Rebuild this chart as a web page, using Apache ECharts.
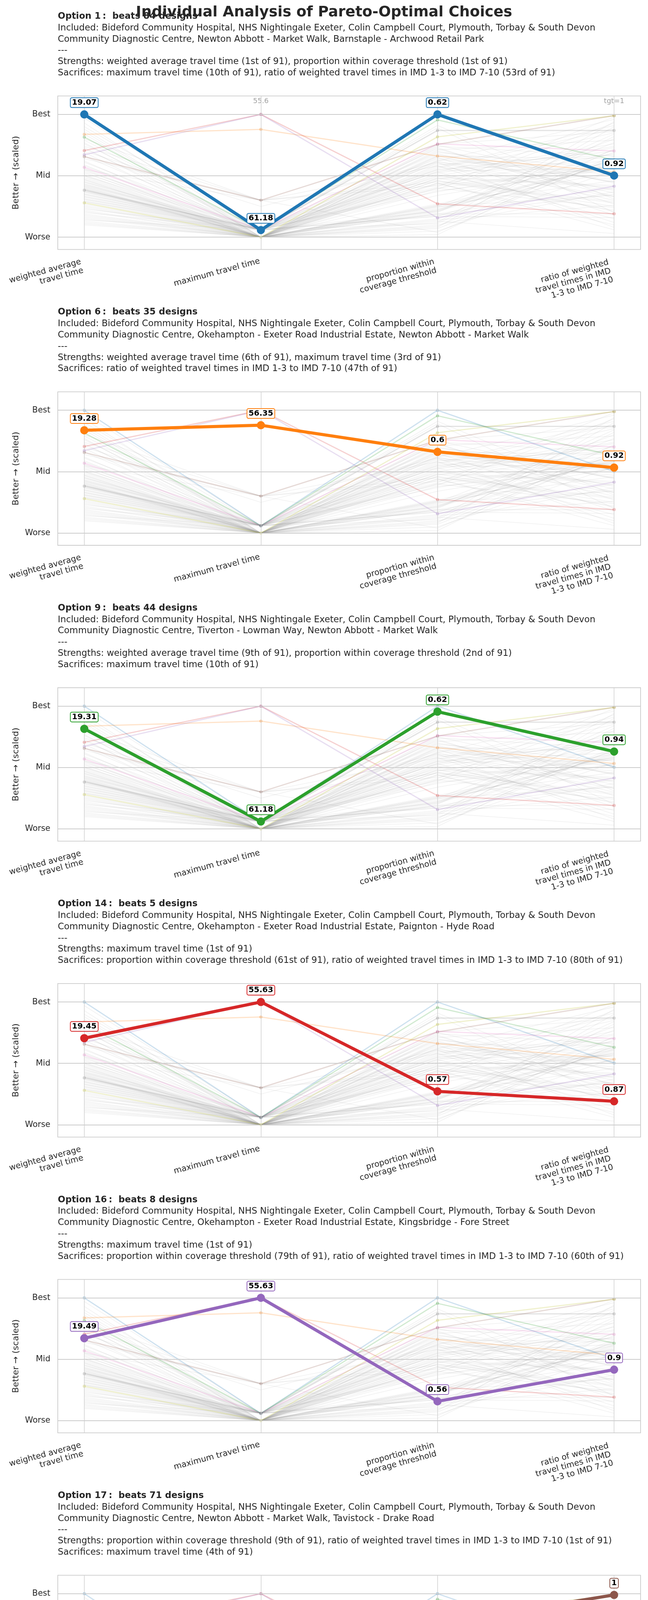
<!DOCTYPE html>
<html>
<head>
<meta charset="utf-8">
<title>Individual Analysis of Pareto-Optimal Choices</title>
<script src="https://cdn.jsdelivr.net/npm/echarts@6/dist/echarts.min.js"></script>
<style>
    html, body { margin: 0; padding: 0; background: #fff; }
    #chart { width: 1660px; height: 6852px; }
</style>
</head>
<body>
<div id="chart"></div>
<script>
// axes of the parallel plot
var axisNames = ['weighted average\ntravel time', 'maximum travel time', 'proportion within\ncoverage threshold', 'ratio of weighted\ntravel times in IMD\n1-3 to IMD 7-10'];
var levelValues = [0, 0.5, 1];
var levelNames = ['Worse', 'Mid', 'Best'];

// pareto options
var optionIds = [1, 6, 9, 14, 16, 17, 28, 58, 73];
var optionBeats = [84, 35, 44, 5, 8, 71, 42, 27, 14];
var optionColors = ['#1f77b4', '#ff7f0e', '#2ca02c', '#d62728', '#9467bd', '#8c564b', '#e377c2', '#7f7f7f', '#bcbd22'];
// scaled position on each axis (0 = worse, 1 = best)
var optionScaled = [
    [1.0, 0.058, 1.0, 0.502],
    [0.837, 0.878, 0.661, 0.533],
    [0.815, 0.06, 0.955, 0.63],
    [0.705, 1.0, 0.272, 0.191],
    [0.671, 1.0, 0.157, 0.415],
    [0.656, 0.301, 0.756, 0.99],
    [0.569, 0.06, 0.76, 0.702],
    [0.382, 0.06, 0.869, 0.869],
    [0.28, 0.0, 0.817, 0.989]
];
// raw values written in the boxes
var optionRaw = [
    ['19.07', '61.18', '0.62', '0.92'],
    ['19.28', '56.35', '0.6', '0.92'],
    ['19.31', '61.18', '0.62', '0.94'],
    ['19.45', '55.63', '0.57', '0.87'],
    ['19.49', '55.63', '0.56', '0.9'],
    ['19.52', '59.77', '0.6', '1'],
    ['19.63', '61.18', '0.6', '0.95'],
    ['19.87', '61.18', '0.61', '1.02'],
    ['20', '61.53', '0.61', '1']
];
var includedLine1 = 'Included: Bideford Community Hospital, NHS Nightingale Exeter, Colin Campbell Court, Plymouth, Torbay & South Devon';
var includedLine2 = [
    'Community Diagnostic Centre, Newton Abbott - Market Walk, Barnstaple - Archwood Retail Park',
    'Community Diagnostic Centre, Okehampton - Exeter Road Industrial Estate, Newton Abbott - Market Walk',
    'Community Diagnostic Centre, Tiverton - Lowman Way, Newton Abbott - Market Walk',
    'Community Diagnostic Centre, Okehampton - Exeter Road Industrial Estate, Paignton - Hyde Road',
    'Community Diagnostic Centre, Okehampton - Exeter Road Industrial Estate, Kingsbridge - Fore Street',
    'Community Diagnostic Centre, Newton Abbott - Market Walk, Tavistock - Drake Road',
    'Community Diagnostic Centre, Newton Abbott - Market Walk, Paignton - Hyde Road',
    'Community Diagnostic Centre, Newton Abbott - Market Walk, Exmouth - The Strand',
    'Community Diagnostic Centre, Bovey Tracey - Blue Waters, Exmouth - The Strand'
];
var strengths = [
    'weighted average travel time (1st of 91), proportion within coverage threshold (1st of 91)',
    'weighted average travel time (6th of 91), maximum travel time (3rd of 91)',
    'weighted average travel time (9th of 91), proportion within coverage threshold (2nd of 91)',
    'maximum travel time (1st of 91)',
    'maximum travel time (1st of 91)',
    'proportion within coverage threshold (9th of 91), ratio of weighted travel times in IMD 1-3 to IMD 7-10 (1st of 91)',
    'proportion within coverage threshold (7th of 91), ratio of weighted travel times in IMD 1-3 to IMD 7-10 (23rd of 91)',
    'proportion within coverage threshold (5th of 91), ratio of weighted travel times in IMD 1-3 to IMD 7-10 (11th of 91)',
    'proportion within coverage threshold (6th of 91), ratio of weighted travel times in IMD 1-3 to IMD 7-10 (2nd of 91)'
];
var sacrifices = [
    'maximum travel time (10th of 91), ratio of weighted travel times in IMD 1-3 to IMD 7-10 (53rd of 91)',
    'ratio of weighted travel times in IMD 1-3 to IMD 7-10 (47th of 91)',
    'maximum travel time (10th of 91)',
    'proportion within coverage threshold (61st of 91), ratio of weighted travel times in IMD 1-3 to IMD 7-10 (80th of 91)',
    'proportion within coverage threshold (79th of 91), ratio of weighted travel times in IMD 1-3 to IMD 7-10 (60th of 91)',
    'maximum travel time (4th of 91)',
    'weighted average travel time (28th of 91), maximum travel time (10th of 91)',
    'weighted average travel time (58th of 91), maximum travel time (10th of 91)',
    'weighted average travel time (73rd of 91), maximum travel time (37th of 91)'
];
// best reference values printed above the first panel
var bestRefLabels = ['19.07', '55.6', '0.62', 'tgt=1'];
var bestRefLevel = 1.108;

// the other (dominated) designs, scaled
var otherDesigns = [
    [0.97, 0.06, 0.62, 0.30], [0.93, 0, 0.70, 0.45], [0.90, 0.06, 0.55, 0.62], [0.88, 0, 0.48, 0.25],
    [0.86, 0, 0.66, 0.38], [0.84, 0, 0.40, 0.58], [0.80, 0.30, 0.58, 0.12], [0.79, 0.06, 0.72, 0.33],
    [0.77, 0, 0.09, 0.66], [0.76, 0.06, 0.64, 0.52], [0.74, 0.30, 0.45, 0.28], [0.73, 0, 0.50, 0.74],
    [0.72, 0.06, 0.89, 0.20], [0.70, 0.25, 0.61, 0.47], [0.69, 0, 0.25, 0.80], [0.66, 0.06, 0.68, 0.36],
    [0.64, 0.30, 0.42, 0.57], [0.62, 0, 0.24, 0.69], [0.61, 0.06, 0.53, 0.15], [0.59, 0, 0.75, 0.44],
    [0.58, 0.06, 0.37, 0.61], [0.56, 0, 0.57, 0.91], [0.55, 0.30, 0.04, 0.65], [0.55, 0, 0.46, 0.22],
    [0.54, 0.06, 0.69, 0.55], [0.53, 0, 0.20, 0.84], [0.52, 0.06, 0.60, 0.39], [0.51, 0, 0.22, 0.60],
    [0.50, 0, 0.52, 0.76], [0.50, 0.06, 0.91, 0.31], [0.49, 0, 0.43, 0.68], [0.48, 0, 0.12, 0.94],
    [0.47, 0, 0.65, 0.18], [0.47, 0, 0.38, 0.52], [0.46, 0, 0.56, 0.88], [0.45, 0.06, 0.21, 0.63],
    [0.45, 0, 0.73, 0.27], [0.44, 0, 0.22, 0.71], [0.43, 0.06, 0.49, 0.42], [0.43, 0, 0.62, 0.96],
    [0.42, 0, 0.34, 0.58], [0.42, 0.06, 0.18, 0.35], [0.41, 0, 0.59, 0.67], [0.41, 0, 0.44, 0.10],
    [0.40, 0, 0.71, 0.79], [0.40, 0, 0.26, 0.46], [0.39, 0, 0.54, 0.56], [0.39, 0.06, 0.40, 0.24],
    [0.39, 0, 0.08, 0.90], [0.38, 0, 0.66, 0.64], [0.37, 0.06, 0.47, 0.73], [0.37, 0, 0.19, 0.40],
    [0.36, 0, 0.63, 0.51], [0.35, 0.06, 0.757, 0.86], [0.35, 0, 0.23, 0.59], [0.34, 0, 0.51, 0.21],
    [0.33, 0.06, 0.11, 0.82], [0.33, 0, 0.15, 0.62], [0.32, 0, 0.58, 0.33], [0.31, 0.06, 0.41, 0.98],
    [0.31, 0, 0.05, 0.54], [0.30, 0, 0.67, 0.45], [0.29, 0.06, 0.17, 0.16], [0.29, 0, 0.55, 0.70],
    [0.27, 0, 0.21, 0.77], [0.26, 0, 0.46, 0.29], [0.25, 0, 0.74, 0.66], [0.24, 0, 0.10, 0.37],
    [0.23, 0.06, 0.39, 0.93], [0.22, 0, 0.26, 0.53], [0.21, 0, 0.61, 0.08], [0.20, 0.06, 0.17, 0.61],
    [0.19, 0, 0.48, 0.41], [0.18, 0, 0.02, 0.72], [0.17, 0, 0.14, 0.26], [0.16, 0, 0.27, 0.57],
    [0.15, 0, 0.13, 0.03], [0.14, 0.06, 0.53, 0.85], [0.13, 0, 0.19, 0.19], [0.12, 0, 0.07, 0.64],
    [0.11, 0, 0.25, 0.34], [0.10, 0, 0.44, 0.06]
];

var FONT = '"DejaVu Sans", sans-serif';
var TEXT_COLOR = '#262626';
var PANEL_H = 757.4;

function toPoints(row) {
    var pts = [];
    for (var i = 0; i < row.length; i++) {
        pts.push([i, row[i]]);
    }
    return pts;
}

// x labels: right padding keeps the rotated block right edge on the axis
var xRich = {};
[6, 12, 18].forEach(function (pad, k) {
    xRich['l' + (k + 1)] = {
        fontSize: 21, fontFamily: FONT, color: TEXT_COLOR, lineHeight: 23,
        padding: [0, pad, 0, 0]
    };
});
function xLabel(v) {
    var lines = axisNames[Math.round(v)].split('\n');
    var key = 'l' + lines.length;
    return lines.map(function (s) { return '{' + key + '|' + s + '}'; }).join('\n');
}

var titles = [{
    text: 'Individual Analysis of Pareto-Optimal Choices',
    left: 'center', top: 13, padding: 0,
    textStyle: { fontSize: 37.5, fontWeight: 'bold', color: TEXT_COLOR, fontFamily: FONT }
}];
var grids = [], xAxes = [], yAxes = [], series = [];

function makePanel(p) {
    var off = p * PANEL_H;
    titles.push({
        left: 148, top: off + 27.5, padding: 0, itemGap: 1,
        text: 'Option ' + optionIds[p] + '\u2009:  beats ' + optionBeats[p] + ' designs',
        subtext: [includedLine1, includedLine2[p], '---', 'Strengths: ' + strengths[p], 'Sacrifices: ' + sacrifices[p]].join('\n'),
        textStyle: { fontSize: 22.8, fontWeight: 'bold', color: TEXT_COLOR, fontFamily: FONT, lineHeight: 29 },
        subtextStyle: { fontSize: 22.8, color: TEXT_COLOR, fontFamily: FONT, lineHeight: 28.8 }
    });
    grids.push({
        left: 148, top: off + 245.7, width: 1493, height: 392.9,
        show: true, borderColor: '#cccccc', borderWidth: 1.8, backgroundColor: '#ffffff'
    });
    xAxes.push({
        gridIndex: p, type: 'value', min: -0.15, max: 3.15,
        axisLine: { show: false }, axisTick: { show: false }, splitLine: { show: false },
        axisLabel: {
            customValues: [0, 1, 2, 3], rotate: 15, align: 'right', verticalAlign: 'top',
            margin: 17, formatter: xLabel, rich: xRich,
            fontSize: 21, fontFamily: FONT, color: TEXT_COLOR, lineHeight: 23
        }
    });
    yAxes.push({
        gridIndex: p, type: 'value', min: -0.1, max: 1.15,
        name: 'Better \u2192 (scaled)', nameLocation: 'middle', nameGap: 96,
        nameTextStyle: { fontSize: 22, fontFamily: FONT, color: TEXT_COLOR },
        axisLine: { show: false }, axisTick: { show: false }, splitLine: { show: false },
        axisLabel: {
            customValues: levelValues, margin: 19,
            fontSize: 21, fontFamily: FONT, color: TEXT_COLOR,
            formatter: function (v) { return levelNames[levelValues.indexOf(v)]; }
        }
    });

    // grid lines
    var gridLines = [];
    for (var i = 0; i < axisNames.length; i++) {
        gridLines.push({ xAxis: i, lineStyle: { color: '#cfcfcf', width: 1.5, type: 'solid' } });
    }
    levelValues.forEach(function (v) {
        gridLines.push({ yAxis: v, lineStyle: { color: '#cccccc', width: 2, type: 'solid' } });
    });
    series.push({
        type: 'line', xAxisIndex: p, yAxisIndex: p, data: [], z: 1, silent: true,
        markLine: { silent: true, symbol: 'none', label: { show: false }, data: gridLines }
    });

    // all other designs
    otherDesigns.forEach(function (row) {
        series.push({
            type: 'line', xAxisIndex: p, yAxisIndex: p, z: 2, silent: true,
            data: toPoints(row), symbol: 'none',
            lineStyle: { color: '#9a9a9a', width: 1.6, opacity: 0.14 }
        });
    });

    // faint pareto options
    optionScaled.forEach(function (row, o) {
        series.push({
            type: 'line', xAxisIndex: p, yAxisIndex: p, z: 3, silent: true,
            data: toPoints(row), symbol: 'circle', symbolSize: 8,
            lineStyle: { color: optionColors[o], width: 3, opacity: 0.22 },
            itemStyle: { color: optionColors[o], opacity: 0.3 }
        });
    });

    // best references (first panel only)
    if (p === 0) {
        series.push({
            type: 'scatter', xAxisIndex: p, yAxisIndex: p, z: 4, silent: true,
            data: bestRefLabels.map(function (s, i) { return [i, bestRefLevel]; }),
            symbolSize: 0,
            label: {
                show: true, position: 'inside', fontSize: 18, fontFamily: FONT, color: '#8a8a8a',
                formatter: function (prm) { return bestRefLabels[prm.dataIndex]; }
            }
        });
    }

    // highlighted option
    series.push({
        type: 'line', xAxisIndex: p, yAxisIndex: p, z: 6, silent: true,
        data: toPoints(optionScaled[p]), symbol: 'circle', symbolSize: 21,
        lineStyle: { color: optionColors[p], width: 8 },
        itemStyle: { color: optionColors[p] },
        label: {
            show: true, position: 'top', distance: 8,
            formatter: function (prm) { return optionRaw[p][prm.dataIndex]; },
            fontSize: 20, fontWeight: 'bold', fontFamily: FONT, color: '#000',
            backgroundColor: '#ffffff', borderColor: optionColors[p], borderWidth: 2, borderRadius: 3,
            padding: [1, 3], lineHeight: 21
        }
    });
}

for (var p = 0; p < optionIds.length; p++) {
    makePanel(p);
}

var chart = echarts.init(document.getElementById('chart'));
chart.setOption({
    backgroundColor: '#ffffff',
    animation: false,
    title: titles,
    grid: grids,
    xAxis: xAxes,
    yAxis: yAxes,
    series: series
});
</script>
</body>
</html>
